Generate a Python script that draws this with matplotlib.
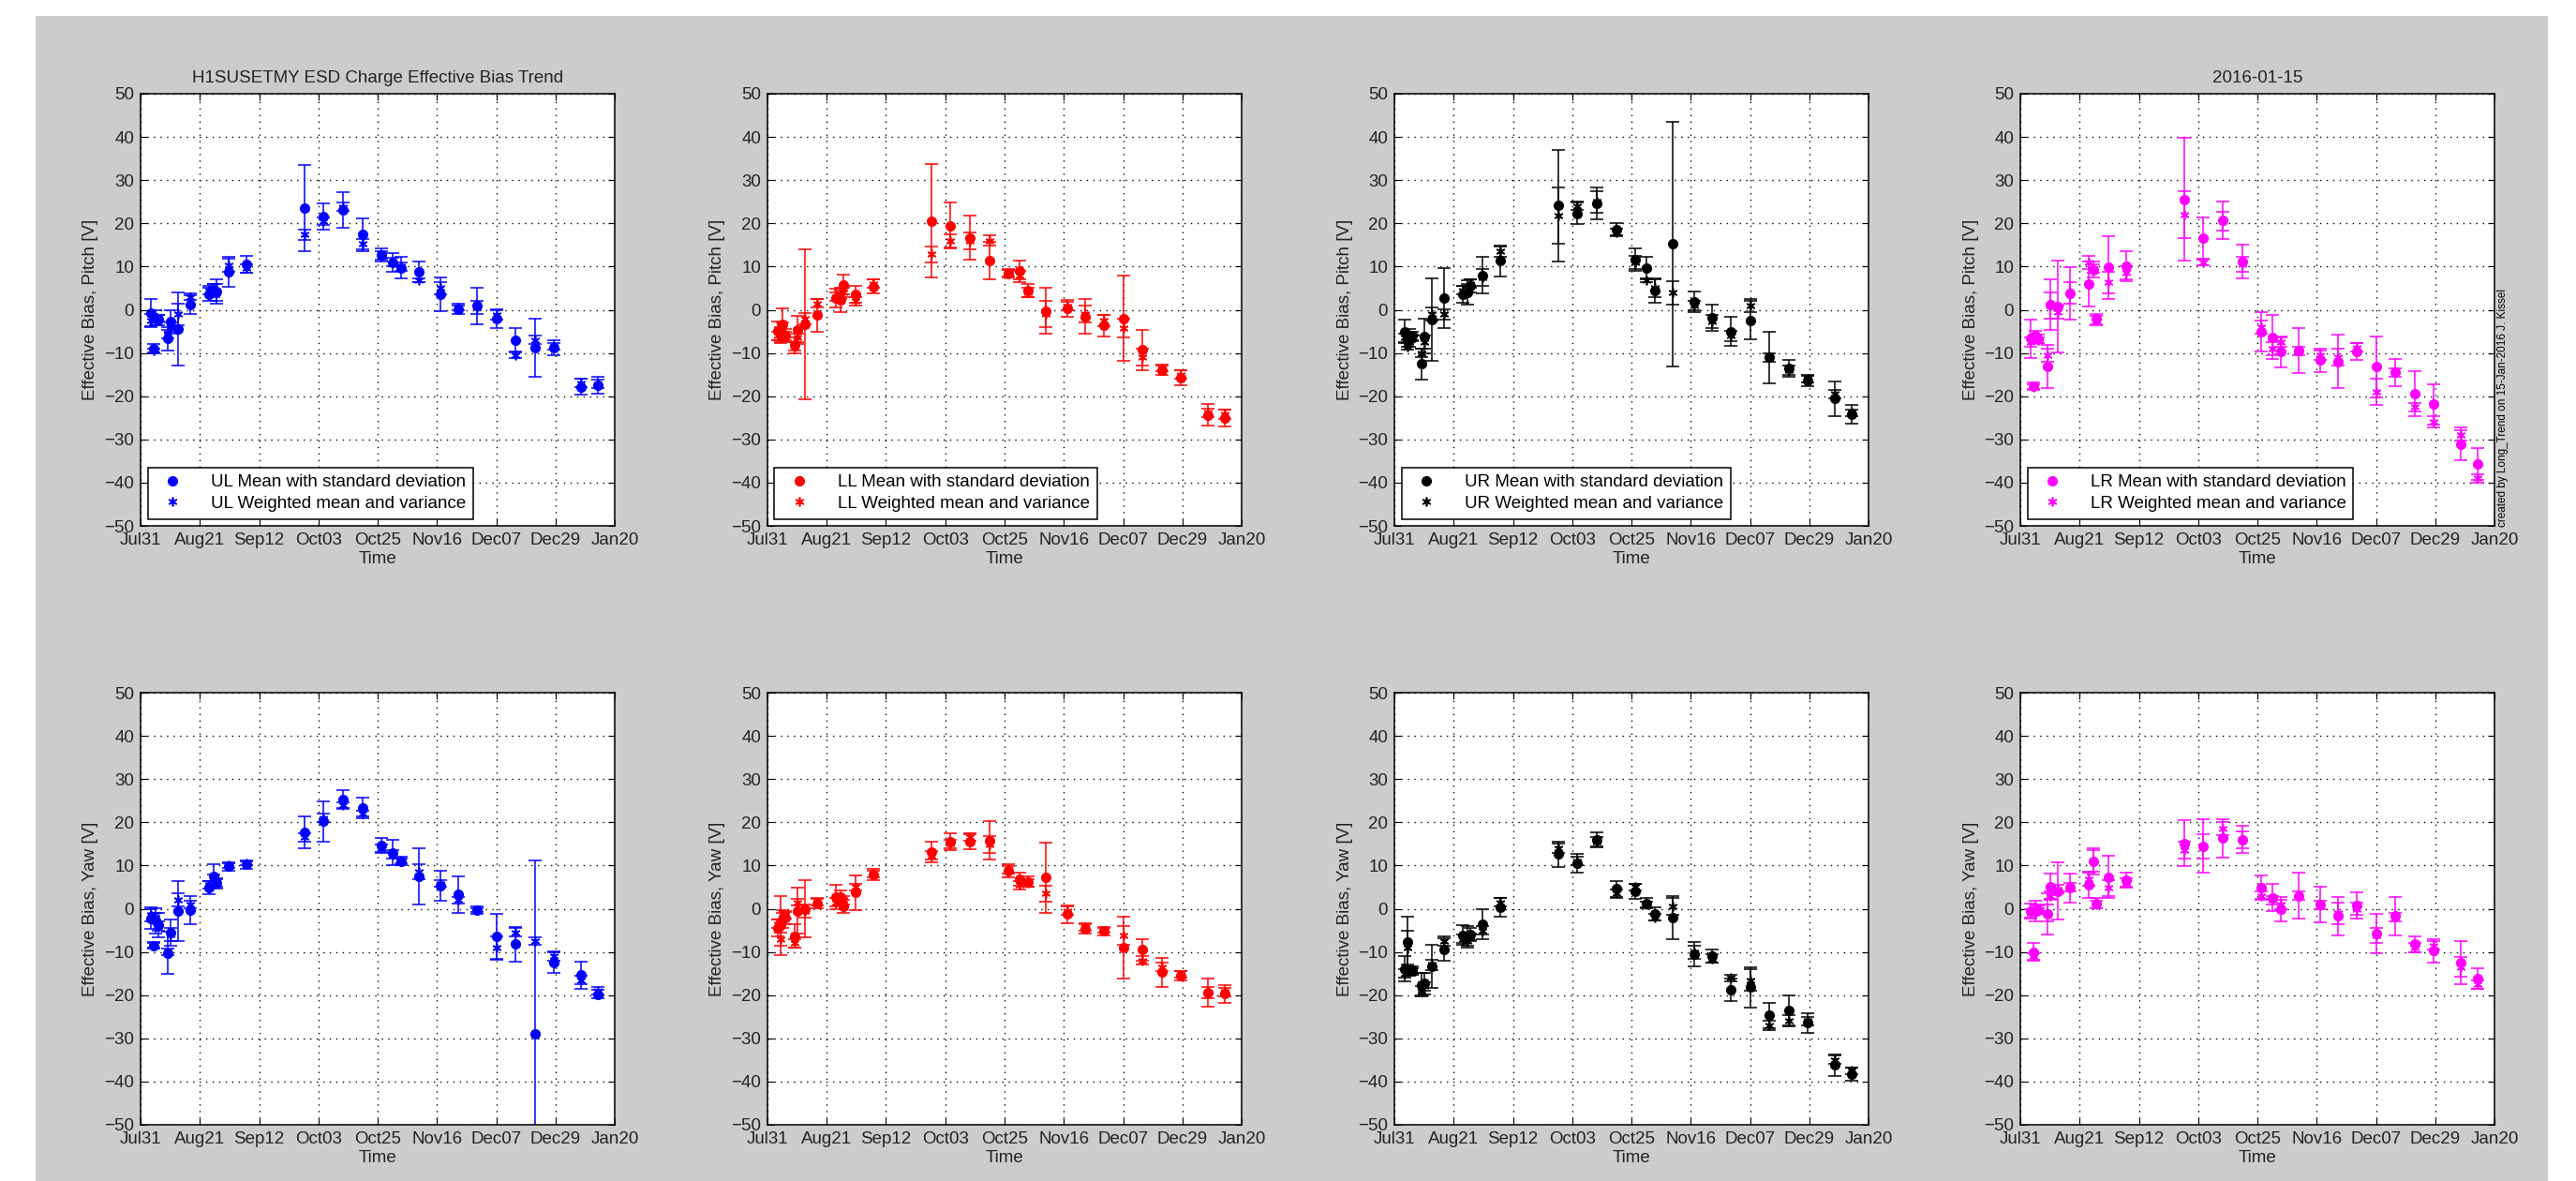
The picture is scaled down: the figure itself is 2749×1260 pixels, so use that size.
import matplotlib
matplotlib.use('Agg')
import matplotlib.pyplot as plt
from matplotlib.lines import Line2D
from matplotlib.patches import Rectangle
import numpy as np

plt.rcParams['font.family'] = ['Liberation Sans', 'DejaVu Sans']

# measurement dates, days after 2015-07-31
days = [3.7, 4.7, 5.6, 6.4, 9.9, 10.8, 13.8, 18.0, 25.0, 26.6, 27.8, 32.0, 38.7,
        59.8, 66.7, 73.8, 80.9, 87.8, 91.8, 94.9, 101.6, 109.5, 115.8, 122.7,
        129.8, 136.8, 143.8, 150.9, 160.8, 166.8]
x_max = 173
tick_labels = ['Jul31', 'Aug21', 'Sep12', 'Oct03', 'Oct25', 'Nov16', 'Dec07', 'Dec29', 'Jan20']

# UL
ul_pitch_mean = [-0.7, -8.9, -1.8, -2.3, -6.7, -2.8, -4.4, 1.2, 3.6, 4.5, 4.3, 8.8, 10.5,
                 23.6, 21.6, 23.1, 17.4, 12.7, 10.9, 9.7, 8.7, 3.6, 0.2, 0.9,
                 -2.0, -7.0, -8.8, -8.8, -17.8, -17.5]
ul_pitch_std = [3.2, 1.0, 1.8, 1.2, 2.7, 2.7, 8.5, 2.1, 1.5, 1.5, 2.8, 3.5, 2.0,
                10.0, 3.0, 4.2, 3.8, 1.5, 2.2, 2.5, 2.4, 3.9, 1.2, 4.2,
                2.2, 2.7, 6.8, 1.8, 1.8, 2.0]
ul_pitch_wmean = [-2.5, -9.5, -2.6, -2.0, -5.6, -4.0, -1.0, 3.0, 4.5, 5.0, 4.0, 10.3, 9.6,
                  17.4, 20.5, 23.8, 15.2, 12.5, 11.0, 10.0, 6.8, 5.0, 0.5, 0.5,
                  -1.2, -10.5, -7.0, -8.5, -17.0, -17.2]
ul_pitch_wvar = [1.5, 0.6, 1.0, 0.8, 1.0, 1.0, 2.5, 0.7, 1.0, 1.0, 2.0, 1.5, 1.0,
                 1.2, 0.8, 1.0, 1.2, 1.0, 1.0, 1.0, 0.5, 1.5, 0.5, 1.5,
                 1.0, 0.7, 1.0, 0.8, 1.0, 1.0]
ul_yaw_mean = [-2.2, -8.5, -2.8, -3.8, -10.2, -5.6, -0.5, -0.3, 4.9, 7.5, 5.9, 9.8, 10.2,
               17.7, 20.2, 25.3, 23.3, 14.6, 13.0, 11.0, 7.5, 5.3, 3.3, -0.3,
               -6.5, -8.2, -29.0, -12.4, -15.4, -19.8]
ul_yaw_std = [2.5, 0.8, 3.0, 2.8, 4.8, 3.0, 7.0, 3.3, 1.5, 2.7, 1.2, 1.0, 1.0,
              3.7, 4.6, 2.2, 2.3, 1.7, 3.0, 1.0, 6.5, 3.5, 4.2, 0.8,
              5.3, 4.0, 40.2, 2.5, 3.1, 1.0]
ul_yaw_wmean = [-1.5, -8.5, -2.0, -4.0, -10.0, -6.0, 2.0, 1.0, 5.5, 7.0, 6.0, 10.0, 10.5,
                16.5, 21.0, 24.0, 22.0, 14.0, 12.5, 11.0, 8.5, 5.8, 2.0, -0.3,
                -9.0, -5.5, -7.5, -11.0, -16.5, -19.0]
ul_yaw_wvar = [1.5, 0.5, 1.0, 1.0, 0.8, 1.5, 1.5, 0.8, 0.8, 1.0, 0.8, 0.5, 0.5,
               1.0, 1.0, 0.6, 0.7, 0.8, 1.0, 0.5, 1.7, 0.8, 0.8, 0.5,
               2.5, 1.0, 0.8, 1.0, 1.0, 0.8]

# LL
ll_pitch_mean = [-4.9, -5.8, -3.4, -6.0, -8.2, -4.7, -3.4, -1.2, 2.7, 2.3, 5.8, 3.6, 5.4,
                 20.6, 19.5, 16.7, 11.4, 8.4, 8.9, 4.5, -0.3, 0.3, -1.6, -3.6,
                 -2.0, -9.3, -14.0, -15.7, -24.3, -25.1]
ll_pitch_std = [2.2, 1.8, 3.7, 1.5, 1.8, 3.2, 17.3, 3.8, 2.1, 2.8, 2.3, 2.0, 1.7,
                13.2, 5.3, 5.2, 4.3, 1.0, 2.4, 1.5, 5.3, 2.0, 4.0, 2.5,
                9.9, 4.6, 1.0, 1.8, 2.5, 2.0]
ll_pitch_wmean = [-6.0, -6.5, -4.5, -6.0, -8.5, -6.5, -2.0, 1.5, 3.0, 3.5, 4.0, 2.0, 6.0,
                  12.8, 16.0, 16.0, 16.0, 8.5, 8.0, 4.0, -1.0, 0.8, -1.0, -2.5,
                  -4.3, -11.0, -13.5, -15.0, -23.8, -24.2]
ll_pitch_wvar = [1.0, 1.0, 1.5, 1.0, 1.0, 1.0, 1.3, 1.0, 1.0, 1.0, 1.0, 1.0, 1.0,
                 1.8, 1.5, 2.0, 1.2, 0.8, 1.0, 1.0, 3.0, 1.0, 2.0, 1.2,
                 2.2, 2.0, 0.8, 1.0, 1.0, 1.0]
ll_yaw_mean = [-4.5, -3.9, -2.4, -2.0, -6.3, -0.5, 0.0, 1.3, 2.7, 2.8, 0.5, 3.7, 8.0,
               13.1, 15.5, 15.6, 15.8, 8.7, 6.8, 6.2, 7.2, -1.3, -4.6, -5.2,
               -9.0, -9.5, -14.7, -15.5, -19.4, -19.7]
ll_yaw_std = [2.0, 6.9, 2.0, 1.5, 2.8, 5.3, 6.6, 1.2, 2.9, 1.5, 1.5, 4.0, 1.3,
              2.4, 2.0, 1.8, 4.4, 1.5, 1.5, 1.2, 8.2, 2.0, 1.2, 1.0,
              7.2, 2.5, 3.4, 1.0, 3.2, 2.0]
ll_yaw_wmean = [-3.5, -7.0, -2.0, -1.5, -8.0, 1.5, -0.5, 1.5, 1.5, 1.5, 2.0, 5.0, 8.0,
                12.3, 15.0, 16.5, 14.8, 9.0, 5.5, 6.0, 3.5, -0.5, -4.3, -5.0,
                -6.2, -12.0, -13.5, -15.2, -19.5, -19.3]
ll_yaw_wvar = [1.0, 1.5, 1.0, 0.8, 1.0, 0.8, 1.5, 0.8, 1.0, 1.0, 1.0, 0.8, 0.8,
               1.0, 1.0, 0.8, 2.0, 0.8, 1.0, 0.8, 1.8, 1.0, 0.8, 0.6,
               2.2, 1.0, 1.0, 0.7, 1.3, 1.0]

# UR
ur_pitch_mean = [-5.0, -7.0, -5.9, -6.0, -12.5, -6.1, -2.3, 2.7, 3.6, 4.0, 5.5, 8.0, 11.3,
                 24.1, 22.3, 24.7, 18.5, 11.7, 9.6, 4.5, 15.2, 1.8, -1.9, -5.0,
                 -2.4, -11.0, -13.6, -16.4, -20.6, -24.2]
ur_pitch_std = [2.8, 1.5, 1.5, 1.0, 3.6, 4.0, 9.5, 6.9, 2.0, 2.8, 1.5, 4.2, 3.6,
                12.9, 2.5, 3.7, 1.5, 2.6, 2.6, 2.8, 28.4, 2.4, 3.0, 3.4,
                4.5, 6.0, 2.0, 1.3, 4.0, 2.2]
ur_pitch_wmean = [-6.5, -8.5, -7.5, -6.5, -10.0, -7.5, -1.0, -1.0, 4.5, 5.0, 6.0, 7.5, 13.5,
                  21.8, 24.0, 25.0, 18.0, 11.0, 6.8, 5.0, 4.0, 1.0, -2.8, -6.0,
                  1.0, -11.0, -14.0, -16.0, -19.5, -23.8]
ur_pitch_wvar = [1.0, 0.8, 1.0, 0.8, 1.0, 1.5, 1.5, 1.2, 1.0, 1.0, 1.0, 2.0, 1.2,
                 6.5, 1.0, 2.5, 0.8, 1.5, 0.5, 2.0, 2.7, 1.0, 1.5, 1.2,
                 1.5, 1.0, 1.0, 0.8, 1.0, 0.8]
ur_yaw_mean = [-13.9, -7.8, -14.3, -14.3, -17.6, -17.3, -13.3, -9.5, -6.1, -6.5, -6.0, -3.6, 0.3,
               12.6, 10.5, 15.9, 4.6, 4.0, 1.3, -1.2, -2.0, -10.6, -10.9, -18.8,
               -18.2, -24.7, -23.6, -26.4, -36.2, -38.3]
ur_yaw_std = [3.0, 6.0, 1.0, 1.0, 2.7, 2.5, 5.0, 2.6, 2.3, 2.5, 1.5, 3.5, 2.2,
              2.9, 2.2, 1.7, 1.8, 1.8, 1.2, 1.5, 5.0, 2.8, 1.5, 2.6,
              4.6, 2.9, 3.5, 2.3, 2.5, 1.5]
ur_yaw_wmean = [-15.0, -9.0, -14.5, -14.5, -19.0, -18.0, -13.0, -7.5, -7.0, -7.5, -6.5, -5.0, 1.5,
                14.0, 11.0, 15.5, 3.5, 5.0, 1.0, -2.0, 0.5, -10.0, -11.5, -16.0,
                -16.5, -27.0, -26.0, -26.0, -35.0, -37.5]
ur_yaw_wvar = [1.0, 4.0, 1.0, 0.7, 1.0, 1.0, 1.2, 1.0, 1.0, 1.0, 0.8, 1.0, 1.0,
               1.0, 1.0, 1.0, 1.0, 0.8, 0.6, 0.8, 2.0, 1.5, 1.0, 0.8,
               2.5, 1.0, 1.3, 1.0, 1.0, 0.8]

# LR
lr_pitch_mean = [-6.7, -17.7, -5.9, -6.8, -13.2, 1.2, 0.8, 3.8, 5.9, 9.3, -2.1, 9.8, 10.1,
                 25.5, 16.5, 20.7, 11.1, -5.1, -6.3, -9.7, -9.5, -11.7, -12.0, -9.7,
                 -13.2, -14.5, -19.4, -21.9, -31.1, -35.7]
lr_pitch_std = [4.4, 0.8, 1.0, 1.0, 5.0, 5.9, 10.6, 6.1, 5.2, 1.8, 1.2, 7.3, 3.5,
                14.2, 4.8, 4.4, 3.9, 4.5, 5.0, 3.6, 5.2, 2.7, 6.2, 2.0,
                7.0, 3.2, 5.3, 4.6, 3.8, 3.6]
lr_pitch_wmean = [-7.5, -17.8, -6.5, -7.0, -10.5, 1.0, -0.5, 4.0, 11.0, 9.5, -2.5, 6.3, 8.5,
                  22.0, 11.0, 20.5, 10.5, -4.0, -9.0, -7.5, -9.5, -10.5, -11.0, -8.7,
                  -19.0, -14.5, -22.5, -26.0, -29.0, -39.0]
lr_pitch_wvar = [1.0, 0.5, 0.8, 0.7, 1.5, 3.0, 1.5, 2.5, 1.5, 1.0, 1.0, 2.4, 1.5,
                 5.5, 0.8, 2.2, 1.8, 1.5, 1.5, 1.0, 1.0, 1.0, 2.0, 1.0,
                 3.0, 1.0, 1.0, 1.3, 1.2, 1.0]
lr_yaw_mean = [-0.6, -10.0, -0.5, -0.3, -1.2, 5.2, 4.1, 4.8, 5.5, 10.9, 1.3, 7.3, 6.6,
               15.1, 14.5, 16.3, 16.0, 4.9, 2.6, -0.1, 3.0, 1.0, -1.7, 0.8,
               -5.7, -1.7, -8.2, -9.7, -12.4, -16.2]
lr_yaw_std = [1.7, 2.0, 2.4, 1.0, 4.8, 3.0, 6.6, 3.3, 3.0, 3.0, 1.2, 4.9, 1.8,
              5.3, 6.2, 4.4, 3.1, 2.7, 3.2, 2.9, 5.3, 4.2, 4.5, 3.0,
              4.5, 4.4, 1.9, 2.7, 5.0, 2.4]
lr_yaw_wmean = [-1.0, -11.0, 0.0, -0.5, -1.0, 3.0, 4.5, 5.0, 6.8, 11.0, 1.0, 4.8, 6.0,
                13.5, 14.5, 18.5, 16.0, 3.0, 2.0, 1.0, 3.0, 0.8, -1.0, 0.0,
                -6.2, -2.0, -9.0, -8.5, -13.5, -17.5]
lr_yaw_wvar = [1.0, 0.8, 1.0, 0.7, 2.0, 1.0, 1.0, 1.0, 1.5, 2.5, 0.8, 1.8, 1.0,
               2.0, 2.8, 1.5, 2.0, 1.0, 1.0, 1.0, 1.0, 1.0, 2.5, 1.5,
               1.8, 1.0, 1.0, 1.0, 2.3, 1.0]

panels = [
    ('UL', 'blue', ul_pitch_mean, ul_pitch_std, ul_pitch_wmean, ul_pitch_wvar,
     ul_yaw_mean, ul_yaw_std, ul_yaw_wmean, ul_yaw_wvar),
    ('LL', 'red', ll_pitch_mean, ll_pitch_std, ll_pitch_wmean, ll_pitch_wvar,
     ll_yaw_mean, ll_yaw_std, ll_yaw_wmean, ll_yaw_wvar),
    ('UR', 'black', ur_pitch_mean, ur_pitch_std, ur_pitch_wmean, ur_pitch_wvar,
     ur_yaw_mean, ur_yaw_std, ur_yaw_wmean, ur_yaw_wvar),
    ('LR', 'magenta', lr_pitch_mean, lr_pitch_std, lr_pitch_wmean, lr_pitch_wvar,
     lr_yaw_mean, lr_yaw_std, lr_yaw_wmean, lr_yaw_wvar),
]

W, H = 2749, 1260
fig = plt.figure(figsize=(W / 100, H / 100), dpi=100, facecolor='white')
fig.patches.append(Rectangle((38 / W, 0), (2719 - 38) / W, (H - 17) / H,
                             transform=fig.transFigure, facecolor='#cccccc',
                             edgecolor='none', zorder=-10))

asterisk = (6, 2, 0)
lefts = [150, 819, 1488, 2156]
tops = [100, 739]
aw, ah = 506, 461


def draw(ax, color, m, s, wm, wv):
    ax.errorbar(days, m, yerr=s, fmt='o', color=color, ms=7, elinewidth=1.1,
                capsize=5, capthick=1.1)
    ax.errorbar(days, wm, yerr=wv, fmt='none', ecolor=color, elinewidth=1.1,
                capsize=5, capthick=1.1)
    ax.plot(days, wm, linestyle='none', marker=asterisk, color=color, ms=7, mew=1.2)
    ax.set_xlim(0, x_max)
    ax.set_ylim(-50, 50)
    ax.set_xticks(np.linspace(0, x_max, len(tick_labels)))
    ax.set_xticklabels(tick_labels)
    ax.set_yticks(np.arange(-50, 51, 10))
    ax.grid(True, color='black', linestyle=(0, (1, 4)), linewidth=1.0)
    ax.tick_params(direction='in', top=True, right=True, labelsize=13.5,
                   labelcolor='#222222', length=5, pad=5)
    for sp in ax.spines.values():
        sp.set_linewidth(1.1)
    ax.set_xlabel('Time', fontsize=13.5, color='#222222', labelpad=2)


for i, (name, color, pm, ps, pwm, pwv, ym, ys, ywm, ywv) in enumerate(panels):
    for row, (m, s, wm, wv, dof) in enumerate([(pm, ps, pwm, pwv, 'Pitch'),
                                               (ym, ys, ywm, ywv, 'Yaw')]):
        ax = fig.add_axes([lefts[i] / W, 1 - (tops[row] + ah) / H, aw / W, ah / H])
        draw(ax, color, m, s, wm, wv)
        ax.set_ylabel('Effective Bias, %s [V]' % dof, fontsize=13.5, color='#222222',
                      labelpad=4)
        if row == 0:
            handles = [Line2D([], [], linestyle='none', marker='o', color=color, ms=7),
                       Line2D([], [], linestyle='none', marker=asterisk, color=color,
                              ms=7, mew=1.2)]
            leg = ax.legend(handles, ['%s Mean with standard deviation' % name,
                                      '%s Weighted mean and variance' % name],
                            loc='lower left', fontsize=13.5, fancybox=False,
                            framealpha=1, edgecolor='black', borderaxespad=0.4,
                            handletextpad=1.2, labelspacing=0.3)
            leg.get_frame().set_linewidth(1.1)
            if i == 0:
                ax.set_title('H1SUSETMY ESD Charge Effective Bias Trend',
                             fontsize=13.5, color='#222222', pad=9)
            if i == 3:
                ax.set_title('2016-01-15', fontsize=13.5, color='#222222', pad=9)

fig.text(2671 / W, 1 - 435 / H, 'created by Long_Trend on 15-Jan-2016 J. Kissel',
         rotation=90, ha='center', va='center', fontsize=8.5)

fig.savefig('out.png', dpi=100, facecolor=fig.get_facecolor())
